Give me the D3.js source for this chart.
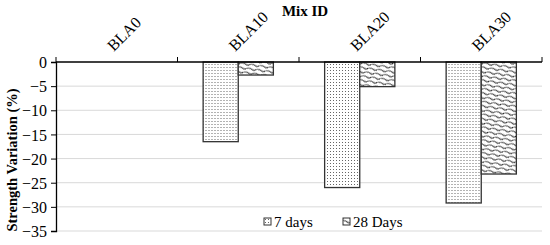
<!DOCTYPE html>
<html>
<head>
<meta charset="utf-8">
<script src="https://cdn.jsdelivr.net/npm/d3@7"></script>
<style>
  body { margin: 0; background: #fff; }
  svg text { font-family: "Liberation Serif", "Times New Roman", serif; fill: #000; }
</style>
</head>
<body>
<div id="chart-area"></div>
<script>
// data
const mixIds = ["BLA0", "BLA10", "BLA20", "BLA30"];
const series = ["7 days", "28 Days"];
const days7 = [0, -16.5, -26.0, -29.2];
const days28 = [0, -2.7, -5.1, -23.2];
const yTicks = [0, -5, -10, -15, -20, -25, -30, -35];

const width = 550;
const height = 245;
const margin = {left: 56, right: 8, top: 62, bottom: 14};

const svg = d3.select("#chart-area")
    .append("svg")
    .attr("width", width)
    .attr("height", height);

// fill patterns
const defs = svg.append("defs");
const dots = defs.append("pattern")
    .attr("id", "dots")
    .attr("width", 6).attr("height", 6)
    .attr("patternUnits", "userSpaceOnUse");
dots.append("rect").attr("width", 6).attr("height", 6).attr("fill", "#fff");
[[1, 1], [4, 1], [1, 4], [4, 4]].forEach(p => {
    dots.append("rect").attr("x", p[0]).attr("y", p[1])
        .attr("width", 1).attr("height", 1).attr("fill", "#666");
});

// shingle pattern, tilted
const scales = defs.append("pattern")
    .attr("id", "scales")
    .attr("width", 8).attr("height", 5)
    .attr("patternUnits", "userSpaceOnUse")
    .attr("patternTransform", "rotate(40)");
scales.append("rect").attr("x", -1).attr("y", -1).attr("width", 10).attr("height", 7).attr("fill", "#fff");
scales.append("path")
    .attr("d", "M0,5 Q0.5,0.3 8,0 M-8,5 Q-7.5,0.3 0,0 M8,5 Q8.5,0.3 16,0 M0,10 Q0.5,5.3 8,5")
    .attr("fill", "none")
    .attr("stroke", "#222")
    .attr("stroke-width", 1);

const x = d3.scaleBand()
    .domain(mixIds)
    .range([margin.left, width - margin.right]);

const sub = d3.scaleBand()
    .domain(series)
    .range([0, x.bandwidth()])
    .paddingOuter(0.73)
    .paddingInner(0);

const y = d3.scaleLinear()
    .domain([0, -35])
    .range([margin.top, height - margin.bottom]);

// gridlines
svg.append("g")
    .selectAll("line")
    .data(yTicks.slice(1))
    .enter()
    .append("line")
    .attr("x1", margin.left)
    .attr("x2", width - margin.right)
    .attr("y1", d => y(d))
    .attr("y2", d => y(d))
    .attr("stroke", "#d9d9d9")
    .attr("stroke-width", 1);

// bars
const rows = mixIds.map((m, i) => ({id: m, vals: [days7[i], days28[i]]}));
const groups = svg.selectAll(".grp")
    .data(rows)
    .enter()
    .append("g")
    .attr("class", "grp")
    .attr("transform", d => "translate(" + x(d.id) + ",0)");

groups.selectAll("rect")
    .data(d => d.vals.map((v, j) => ({s: series[j], v: v})))
    .enter()
    .append("rect")
    .filter(d => d.v !== 0)
    .attr("x", d => sub(d.s))
    .attr("width", sub.bandwidth())
    .attr("y", y(0))
    .attr("height", d => y(d.v) - y(0))
    .attr("fill", d => d.s === "7 days" ? "url(#dots)" : "url(#scales)")
    .attr("stroke", "#333")
    .attr("stroke-width", 1.3);

// y axis
const yAxis = svg.append("g")
    .attr("transform", "translate(" + margin.left + ",0)")
    .call(d3.axisLeft(y).tickValues(yTicks).tickSize(5).tickPadding(4));
yAxis.select(".domain").attr("stroke", "#000").attr("stroke-width", 1.3);
yAxis.selectAll(".tick line").attr("stroke", "#000");
yAxis.selectAll("text").attr("font-size", 16).attr("dy", "0.35em");

// zero axis with category boundary ticks pointing up
svg.append("line")
    .attr("x1", margin.left).attr("x2", width - margin.right)
    .attr("y1", y(0)).attr("y2", y(0))
    .attr("stroke", "#000").attr("stroke-width", 1.3);
const bounds = mixIds.map(m => x(m)).concat([x.range()[1]]);
svg.selectAll(".xtick")
    .data(bounds)
    .enter()
    .append("line")
    .attr("x1", d => d).attr("x2", d => d)
    .attr("y1", y(0)).attr("y2", y(0) - 5)
    .attr("stroke", "#000").attr("stroke-width", 1);

// category labels, rotated
svg.selectAll(".cat")
    .data(mixIds)
    .enter()
    .append("text")
    .attr("transform", d => "translate(" + (x(d) + x.bandwidth() / 2 - 3) + "," + 52 + ") rotate(-45)")
    .attr("font-size", 16)
    .text(d => d);

// titles
svg.append("text")
    .attr("x", 305).attr("y", 16)
    .attr("text-anchor", "middle")
    .attr("font-size", 15)
    .attr("font-weight", "bold")
    .text("Mix ID");

svg.append("text")
    .attr("transform", "translate(17," + 160 + ") rotate(-90)")
    .attr("text-anchor", "middle")
    .attr("font-size", 14.5)
    .attr("font-weight", "bold")
    .text("Strength Variation (%)");

// legend
const legend = svg.append("g").attr("transform", "translate(264,218)");
const li = legend.selectAll("g")
    .data(series)
    .enter()
    .append("g")
    .attr("transform", (d, i) => "translate(" + (i * 79) + ",0)");
li.append("rect")
    .attr("width", 7).attr("height", 7)
    .attr("fill", d => d === "7 days" ? "url(#dots)" : "url(#scales)")
    .attr("stroke", "#333");
li.append("text")
    .attr("x", 10).attr("y", 9)
    .attr("font-size", 15)
    .text(d => d);
</script>
</body>
</html>
